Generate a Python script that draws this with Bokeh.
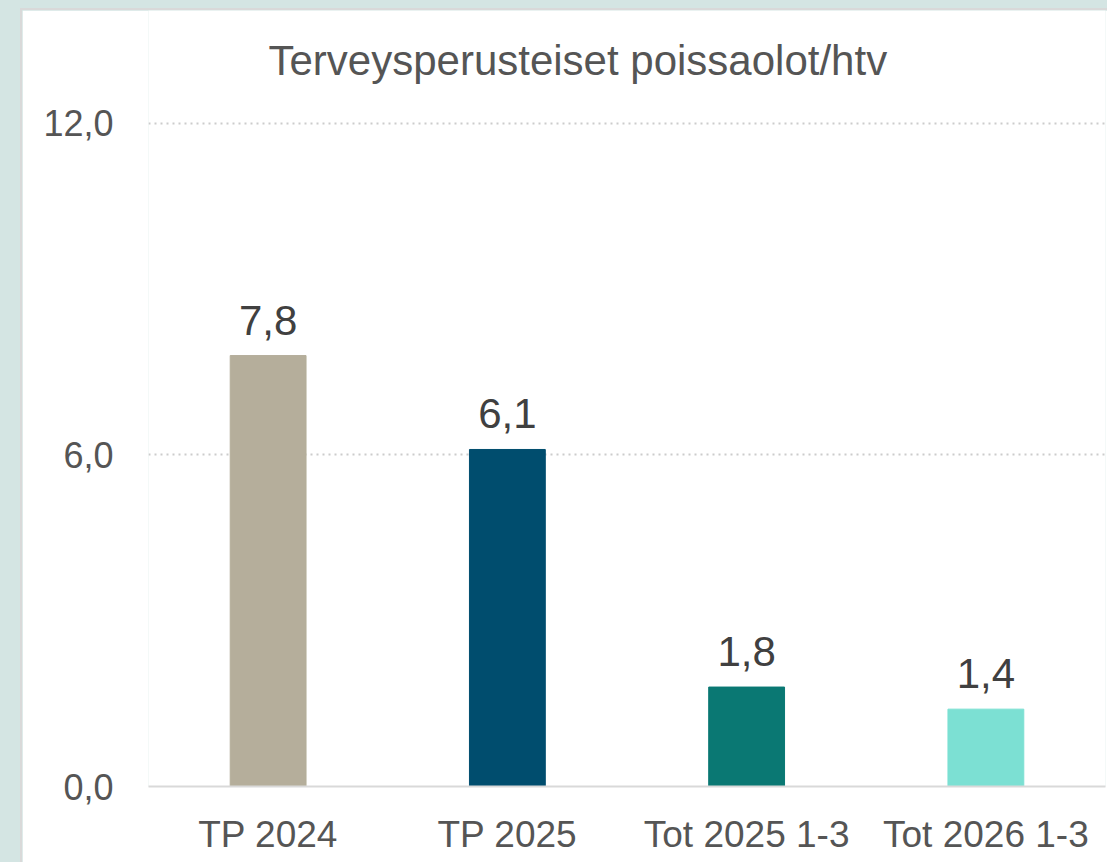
from bokeh.plotting import figure
from bokeh.models import Range1d, FixedTicker, Label, Spacer, ColumnDataSource, LabelSet
from bokeh.layouts import row, column
from bokeh.core.properties import value
from bokeh.embed import file_html
from bokeh.resources import INLINE

# ---- data ----
categories = ["TP 2024", "TP 2025", "Tot 2025 1-3", "Tot 2026 1-3"]
values = [7.8, 6.1, 1.8, 1.4]
bar_colors = ["#b5ae9b", "#004d6e", "#0a7873", "#7ce0d3"]
y_ticks = [0, 6, 12]
y_tick_labels = ["0,0", "6,0", "12,0"]
title_text = "Terveysperusteiset poissaolot/htv"

FONT = "Liberation Sans"
TXT = "#555555"

labels = [f"{v:.1f}".replace(".", ",") for v in values]
src = ColumnDataSource(dict(cat=categories, val=values, color=bar_colors, lab=labels))

p = figure(
    x_range=categories,
    y_range=Range1d(0, 14.045),
    width=1085, height=852,
    output_backend="svg", toolbar_location=None,
    min_border_left=126, min_border_right=2,
    min_border_top=0, min_border_bottom=76,
)
p.title = None
p.outline_line_color = None
p.background_fill_color = "white"
p.border_fill_color = "white"

p.vbar(x="cat", top="val", width=0.317, color="color", source=src)

p.add_layout(LabelSet(x="cat", y="val", text="lab", source=src,
                      text_font=value(FONT), text_font_size=value("42px"),
                      text_color=value("#404040"),
                      text_align="center", text_baseline="alphabetic", y_offset=21))

# axes
p.xgrid.grid_line_color = None
p.ygrid.ticker = FixedTicker(ticks=[6, 12])
p.ygrid.grid_line_color = "#cccccc"
p.ygrid.grid_line_width = 2
p.ygrid.grid_line_dash = "2 4"

p.yaxis.ticker = FixedTicker(ticks=y_ticks)
p.yaxis.major_label_overrides = {t: l for t, l in zip(y_ticks, y_tick_labels)}
p.yaxis.axis_line_color = None
p.yaxis.major_tick_line_color = None
p.yaxis.minor_tick_line_color = None
p.yaxis.major_tick_out = 0
p.yaxis.major_label_standoff = 35
p.yaxis.major_label_text_font = FONT
p.yaxis.major_label_text_font_size = "36px"
p.yaxis.major_label_text_color = TXT

p.xaxis.axis_line_color = "#d9d9d9"
p.xaxis.axis_line_width = 2
p.xaxis.major_tick_line_color = None
p.xaxis.minor_tick_line_color = None
p.xaxis.major_tick_out = 0
p.xaxis.major_label_standoff = 27
p.xaxis.major_label_text_font = FONT
p.xaxis.major_label_text_font_size = "37px"
p.xaxis.major_label_text_color = TXT

p.add_layout(Label(x=120, y=726, x_units="screen", y_units="screen",
                   text=title_text, text_font=FONT, text_font_size="42px",
                   text_color=TXT, text_align="left", text_baseline="alphabetic"))

gray = {"background-color": "#d9d9d9"}
layout = column(
    Spacer(width=1107, height=8),
    row(
        Spacer(width=20, height=854),
        column(
            Spacer(width=1087, height=2, styles=gray),
            row(Spacer(width=2, height=852, styles=gray), p),
        ),
    ),
)

html = file_html(layout, INLINE)
html = html.replace("<head>", "<head><style>html,body{background:#d4e5e3;}</style>", 1)
open("out.html", "w").write(html)
